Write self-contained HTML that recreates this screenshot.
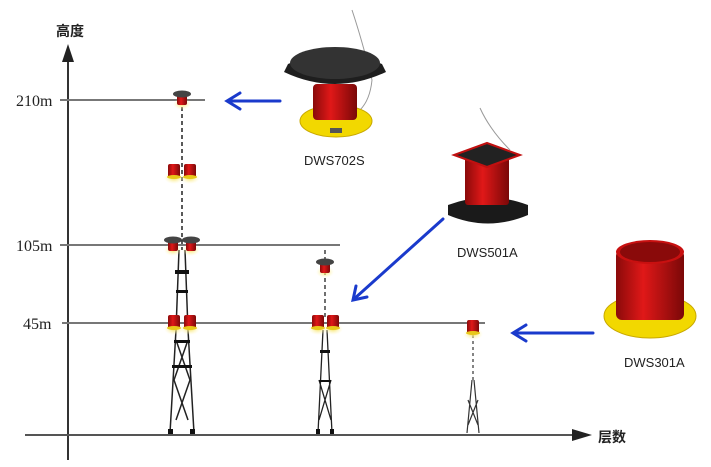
<!DOCTYPE html>
<html><head><meta charset="utf-8"><style>body{margin:0;background:#fff}svg{display:block}</style></head><body>
<svg width="711" height="467" viewBox="0 0 711 467" xmlns="http://www.w3.org/2000/svg" font-family="Liberation Sans, Noto Sans CJK SC, sans-serif">
<defs>
<radialGradient id="glow"><stop offset="0" stop-color="#f5e05a"/><stop offset="1" stop-color="#fff8c0" stop-opacity="0"/></radialGradient>
<linearGradient id="red" x1="0" x2="1"><stop offset="0" stop-color="#8a0a0a"/><stop offset=".4" stop-color="#e01818"/><stop offset="1" stop-color="#7a0808"/></linearGradient>
<g id="lamp"><ellipse cx="0" cy="6" rx="10" ry="6" fill="url(#glow)"/><rect x="-6" y="-8" width="12" height="14" rx="2" fill="url(#red)"/><ellipse cx="0" cy="5" rx="7" ry="2" fill="#e8c81a"/></g>
<g id="slamp"><ellipse cx="0" cy="6" rx="9" ry="6" fill="url(#glow)"/><rect x="-5" y="-3" width="10" height="10" rx="2" fill="url(#red)"/><ellipse cx="0" cy="-4" rx="9" ry="3.5" fill="#444"/></g>
</defs>
<line x1="68" y1="460" x2="68" y2="58" stroke="#333" stroke-width="2"/>
<polygon points="68,44 62,62 74,62" fill="#222"/>
<line x1="25" y1="435" x2="575" y2="435" stroke="#555" stroke-width="2"/>
<polygon points="592,435 572,429 572,441" fill="#222"/>
<text x="56" y="36" font-size="14" font-weight="bold" fill="#222">高度</text>
<text x="598" y="442" font-size="14" font-weight="bold" fill="#222">层数</text>
<line x1="60" y1="100" x2="205" y2="100" stroke="#777" stroke-width="2"/>
<line x1="60" y1="245" x2="340" y2="245" stroke="#777" stroke-width="2"/>
<line x1="62" y1="323" x2="485" y2="323" stroke="#777" stroke-width="2"/>
<text x="16" y="106" font-family="Liberation Serif, serif" font-size="16" fill="#222">210m</text>
<text x="16" y="251" font-family="Liberation Serif, serif" font-size="16" fill="#222">105m</text>
<text x="23" y="329" font-family="Liberation Serif, serif" font-size="16" fill="#222">45m</text>
<g stroke="#222" fill="none" stroke-width="1.5">
<line x1="182" y1="100" x2="182" y2="250" stroke-dasharray="4,3"/>
<path d="M179 250 L176 330 L170 433 M185 250 L188 330 L194 433"/>
<path d="M176 340 L190 380 L176 420 M188 340 L174 380 L188 420"/>
</g>
<g fill="#111"><rect x="175" y="270" width="14" height="4"/><rect x="176" y="290" width="12" height="3"/><rect x="174" y="340" width="16" height="3"/><rect x="172" y="365" width="20" height="3"/><rect x="168" y="429" width="5" height="5"/><rect x="190" y="429" width="5" height="5"/></g>
<g stroke="#222" fill="none" stroke-width="1.3">
<line x1="325" y1="250" x2="325" y2="320" stroke-dasharray="4,3"/>
<path d="M323 330 L318 433 M327 330 L332 433 M319 380 L331 420 M331 380 L319 420"/>
</g>
<g fill="#111"><rect x="320" y="350" width="10" height="3"/><rect x="319" y="380" width="12" height="2"/><rect x="316" y="429" width="4" height="5"/><rect x="330" y="429" width="4" height="5"/></g>
<g stroke="#333" fill="none" stroke-width="1.2">
<line x1="473" y1="335" x2="473" y2="380" stroke-dasharray="3,3"/>
<path d="M472 380 L467 433 M474 380 L479 433 M468 400 L478 425 M478 400 L468 425"/>
</g>
<use href="#slamp" x="182" y="98"/>
<use href="#lamp" x="174" y="172"/><use href="#lamp" x="190" y="172"/>
<use href="#slamp" x="173" y="244"/><use href="#slamp" x="191" y="244"/>
<use href="#lamp" x="174" y="323"/><use href="#lamp" x="190" y="323"/>
<use href="#slamp" x="325" y="266"/>
<use href="#lamp" x="318" y="323"/><use href="#lamp" x="333" y="323"/>
<use href="#lamp" x="473" y="328"/>
<path d="M352 10 Q362 40 372 80 Q370 100 360 110" stroke="#999" fill="none"/>
<ellipse cx="336" cy="121" rx="36" ry="16" fill="#f2d800" stroke="#c8a800"/>
<rect x="313" y="84" width="44" height="36" rx="4" fill="url(#red)"/>
<rect x="330" y="128" width="12" height="5" fill="#555"/>
<path d="M284 72 L288 64 Q335 44 382 64 L386 72 Q335 96 284 72Z" fill="#1e1e1e"/>
<ellipse cx="335" cy="63" rx="45" ry="16" fill="#333"/>
<text x="304" y="165" font-size="13" fill="#222">DWS702S</text>
<path d="M480 108 Q490 130 510 150" stroke="#999" fill="none"/>
<path d="M448 205 Q488 190 528 205 L528 215 Q488 232 448 215Z" fill="#1a1a1a"/>
<rect x="465" y="157" width="44" height="48" rx="3" fill="url(#red)"/>
<polygon points="487,143 520,155 487,167 454,155" fill="#222" stroke="#c01010" stroke-width="2"/>
<text x="457" y="257" font-size="13" fill="#222">DWS501A</text>
<ellipse cx="650" cy="316" rx="46" ry="22" fill="#f2d800" stroke="#c8a800"/>
<rect x="616" y="250" width="68" height="70" rx="6" fill="url(#red)"/>
<ellipse cx="650" cy="252" rx="34" ry="12" fill="#c81010"/>
<ellipse cx="650" cy="252" rx="30" ry="10" fill="#8a0a0a"/>
<text x="624" y="367" font-size="13" fill="#222">DWS301A</text>
<g stroke="#1a3acc" stroke-width="3" fill="none" stroke-linecap="round">
<line x1="280" y1="101" x2="228" y2="101"/><path d="M240 93 L227 101 L240 109"/>
<line x1="443" y1="219" x2="354" y2="299"/><path d="M356 286 L353 300 L367 297"/>
<line x1="593" y1="333" x2="514" y2="333"/><path d="M526 325 L513 333 L526 341"/>
</g>
</svg>
</body></html>
